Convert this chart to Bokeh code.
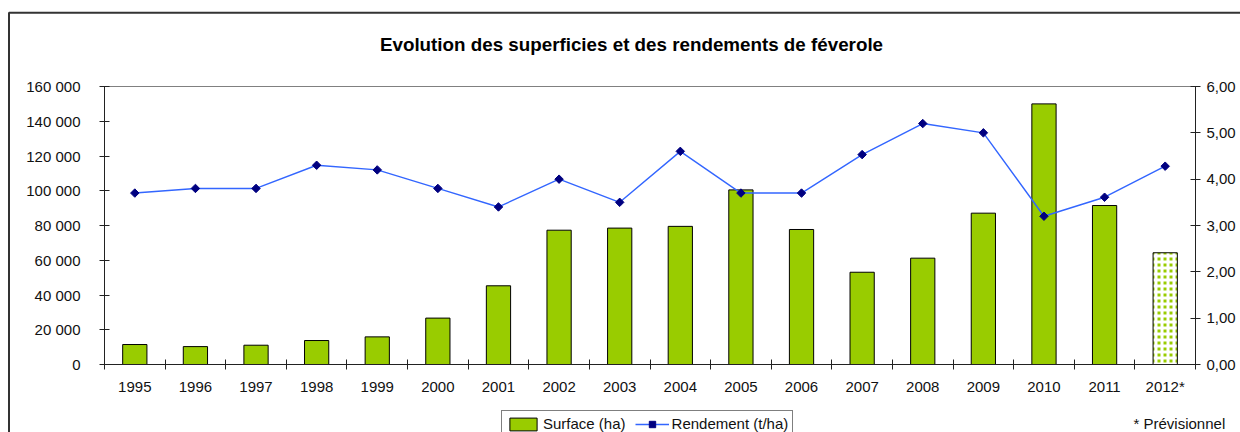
import numpy as np
from bokeh.plotting import figure
from bokeh.models import (Range1d, LinearAxis, FixedTicker, CustomJSTickFormatter,
                          Label, Legend, LegendItem, BoxAnnotation, ColumnDataSource)
from bokeh.embed import file_html
from bokeh.resources import INLINE

# ---------------- data ----------------
years = ["1995", "1996", "1997", "1998", "1999", "2000", "2001", "2002", "2003",
         "2004", "2005", "2006", "2007", "2008", "2009", "2010", "2011", "2012*"]
surface = [11500, 10300, 11100, 13800, 15900, 26700, 45300, 77300, 78500,
           79500, 100500, 77700, 53100, 61200, 87100, 150000, 91500, 64300]
rendement = [3.70, 3.80, 3.80, 4.30, 4.20, 3.80, 3.40, 4.00, 3.50,
             4.60, 3.70, 3.70, 4.53, 5.20, 5.00, 3.20, 3.61, 4.28]
forecast = [False] * 17 + [True]

title_text = "Evolution des superficies et des rendements de féverole"
note_text = "* Prévisionnel"
surface_label = "Surface (ha)"
rendement_label = "Rendement (t/ha)"
left_ticks = [0, 20000, 40000, 60000, 80000, 100000, 120000, 140000, 160000]
right_ticks = [0, 1, 2, 3, 4, 5, 6]

# ---------------- layout (pixels) ----------------
W, H = 1240, 432
PX_L, PX_R, PX_T, PX_B = 104, 1195, 86, 364   # plot area in canvas px

FONT = "Liberation Sans"
TXT = "#111111"
AX = "#222222"

n = len(years)
xc = np.arange(n) + 0.5
act = [i for i in range(n) if not forecast[i]]
fut = [i for i in range(n) if forecast[i]]

LMAX = left_ticks[-1]
RMAX = right_ticks[-1]
xs = n / (PX_R - PX_L)          # data per px (x)
ys = LMAX / (PX_B - PX_T)       # data per px (left y)
rs = RMAX / (PX_B - PX_T)       # data per px (right y)

def X(px):
    return (px - PX_L) * xs

def Y(py):
    return (PX_B - py) * ys

x_range = Range1d(X(0), X(W))
y_range = Range1d(Y(H), Y(0))
r_range = Range1d(-(H - PX_B) * rs, RMAX + PX_T * rs)

p = figure(width=W, height=H, output_backend="svg", toolbar_location=None,
           x_range=x_range, y_range=y_range, x_axis_location=None,
           y_axis_location=None,
           min_border_left=0, min_border_right=0, min_border_top=0,
           min_border_bottom=0)
p.xgrid.visible = False
p.ygrid.visible = False
p.outline_line_color = None
p.background_fill_color = "white"
p.border_fill_color = "white"
p.extra_y_ranges = {"right": r_range}

# bars
src_a = ColumnDataSource(dict(x=xc[act], top=[surface[i] for i in act]))
src_f = ColumnDataSource(dict(x=xc[fut], top=[surface[i] for i in fut]))
bars = p.vbar(x="x", top="top", width=0.4, source=src_a, fill_color="#99CC00",
              line_color="black", line_width=1)
p.vbar(x="x", top="top", width=0.4, source=src_f, fill_color="#99CC00",
       hatch_pattern="cross", hatch_color="white", hatch_scale=6, hatch_weight=3,
       line_color="black", line_width=1)

# line
ln = p.line(xc, rendement, y_range_name="right", line_color="#3366FF", line_width=1.4)
sc = p.scatter(xc, rendement, y_range_name="right", marker="square", angle=np.pi / 4,
               size=6, fill_color="#000080", line_color="#000080")

# axes (fixed inside the full-canvas frame)
xa = LinearAxis(fixed_location=0, bounds=(0, n))
xa.ticker = FixedTicker(ticks=list(xc), minor_ticks=list(range(n + 1)))
xa.formatter = CustomJSTickFormatter(args=dict(labels=years),
                                     code="return labels[Math.floor(tick)];")
xa.major_tick_in = 0
xa.major_tick_out = 0
xa.minor_tick_in = 5
xa.minor_tick_out = 5
xa.minor_tick_line_color = AX
xa.axis_line_color = AX
xa.major_label_standoff = 8
xa.major_label_text_font = FONT
xa.major_label_text_font_size = "15px"
xa.major_label_text_color = TXT
p.add_layout(xa, "below")

# top edge of the plot area
ta = LinearAxis(fixed_location=LMAX, bounds=(0, n))
ta.ticker = FixedTicker(ticks=[])
ta.major_tick_in = 0
ta.major_tick_out = 0
ta.minor_tick_in = 0
ta.minor_tick_out = 0
ta.axis_line_color = "#808080"
ta.major_label_text_font_size = "0px"
p.add_layout(ta, "above")

ya = LinearAxis(fixed_location=0, bounds=(0, LMAX))
ya.ticker = FixedTicker(ticks=left_ticks)
ya.formatter = CustomJSTickFormatter(
    code=r"return tick.toFixed(0).replace(/\B(?=(\d{3})+(?!\d))/g, ' ');")
ya.major_tick_in = 5
ya.major_tick_out = 5
ya.minor_tick_in = 0
ya.minor_tick_out = 0
ya.major_tick_line_color = AX
ya.axis_line_color = AX
ya.major_label_standoff = 19
ya.major_label_text_font = FONT
ya.major_label_text_font_size = "15px"
ya.major_label_text_color = TXT
p.add_layout(ya, "left")

ra = LinearAxis(y_range_name="right", fixed_location=n, bounds=(0, RMAX))
ra.ticker = FixedTicker(ticks=right_ticks)
ra.formatter = CustomJSTickFormatter(code="return tick.toFixed(2).replace('.', ',');")
ra.major_tick_in = 5
ra.major_tick_out = 5
ra.minor_tick_in = 0
ra.minor_tick_out = 0
ra.major_tick_line_color = AX
ra.axis_line_color = AX
ra.major_label_standoff = 6
ra.major_label_text_font = FONT
ra.major_label_text_font_size = "15px"
ra.major_label_text_color = TXT
p.add_layout(ra, "right")

# outer chart border (left and top visible)
p.add_layout(BoxAnnotation(left=X(8.5), right=X(W + 40), top=Y(12.3), bottom=Y(H + 40),
                           fill_alpha=0, line_color="#333333", line_width=2,
                           line_alpha=1))

# title
p.add_layout(Label(x=X(631), y=Y(43.5), text=title_text, text_align="center",
                   text_baseline="alphabetic", text_font=FONT,
                   text_font_style="bold", text_font_size="18.8px",
                   text_color="black"))

# note
p.add_layout(Label(x=X(1133), y=Y(423), text=note_text, text_align="left",
                   text_baseline="alphabetic", text_font=FONT,
                   text_font_size="15px", text_color=TXT))

legend = Legend(items=[LegendItem(label=surface_label, renderers=[bars]),
                       LegendItem(label=rendement_label, renderers=[ln, sc])],
                location=(501, -5), orientation="horizontal",
                border_line_color="black", border_line_width=1,
                padding=4, spacing=9, glyph_width=34, glyph_height=16,
                label_standoff=3, label_text_font=FONT,
                label_text_font_size="15px", label_text_color=TXT,
                margin=0, background_fill_color="white", background_fill_alpha=1)
p.add_layout(legend)

open("out.html", "w").write(file_html(p, INLINE))
